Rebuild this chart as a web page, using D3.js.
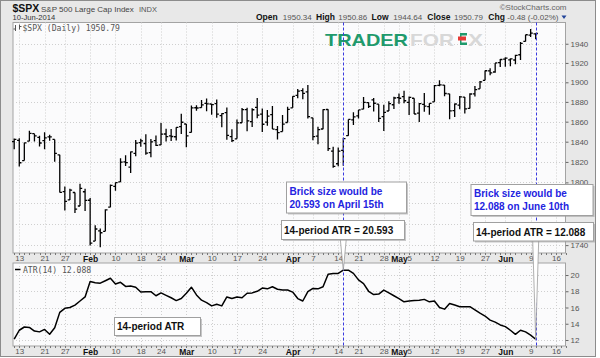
<!DOCTYPE html>
<html><head><meta charset="utf-8">
<script src="https://cdn.jsdelivr.net/npm/d3@7"></script>
<style>body{margin:0;background:#fff}svg{display:block}</style>
</head><body><svg id="c" width="600" height="358"></svg>
<script>
// ---------- DATA ----------
const dates = [
"2014-01-10","2014-01-13","2014-01-14","2014-01-15","2014-01-16","2014-01-17","2014-01-21","2014-01-22","2014-01-23","2014-01-24","2014-01-27","2014-01-28","2014-01-29","2014-01-30","2014-01-31",
"2014-02-03","2014-02-04","2014-02-05","2014-02-06","2014-02-07","2014-02-10","2014-02-11","2014-02-12","2014-02-13","2014-02-14","2014-02-18","2014-02-19","2014-02-20","2014-02-21","2014-02-24","2014-02-25","2014-02-26","2014-02-27","2014-02-28",
"2014-03-03","2014-03-04","2014-03-05","2014-03-06","2014-03-07","2014-03-10","2014-03-11","2014-03-12","2014-03-13","2014-03-14","2014-03-17","2014-03-18","2014-03-19","2014-03-20","2014-03-21","2014-03-24","2014-03-25","2014-03-26","2014-03-27","2014-03-28","2014-03-31",
"2014-04-01","2014-04-02","2014-04-03","2014-04-04","2014-04-07","2014-04-08","2014-04-09","2014-04-10","2014-04-11","2014-04-14","2014-04-15","2014-04-16","2014-04-17","2014-04-21","2014-04-22","2014-04-23","2014-04-24","2014-04-25","2014-04-28","2014-04-29","2014-04-30",
"2014-05-01","2014-05-02","2014-05-05","2014-05-06","2014-05-07","2014-05-08","2014-05-09","2014-05-12","2014-05-13","2014-05-14","2014-05-15","2014-05-16","2014-05-19","2014-05-20","2014-05-21","2014-05-22","2014-05-23","2014-05-27","2014-05-28","2014-05-29","2014-05-30",
"2014-06-02","2014-06-03","2014-06-04","2014-06-05","2014-06-06","2014-06-09","2014-06-10"];
const futureDates = ["2014-06-11","2014-06-12","2014-06-13","2014-06-16","2014-06-17","2014-06-18"];

const open = [
1840.06,1841.26,1821.36,1840.52,1847.99,1844.23,1841.05,1844.71,1842.29,1826.96,1791.03,1783.00,1790.15,1777.17,1790.88,
1782.68,1743.82,1753.38,1752.99,1776.01,1796.20,1800.45,1820.12,1814.82,1828.46,1839.03,1838.22,1829.24,1841.07,1836.78,1847.66,1845.79,1844.90,1855.12,
1857.68,1849.23,1874.05,1874.18,1878.52,1877.86,1878.26,1866.15,1869.06,1845.07,1842.81,1858.92,1872.25,1860.09,1874.53,1867.67,1859.48,1867.09,1852.11,1850.07,1859.16,
1873.96,1886.61,1891.43,1890.25,1863.92,1845.48,1852.64,1872.28,1830.65,1818.18,1831.45,1846.01,1861.73,1865.79,1872.57,1879.32,1881.97,1877.72,1865.00,1870.78,1877.10,
1884.39,1885.30,1879.45,1883.69,1868.53,1877.39,1875.27,1880.03,1896.75,1897.13,1888.16,1871.19,1876.66,1884.88,1873.34,1888.19,1893.32,1902.01,1911.77,1910.60,1920.33,
1923.87,1923.07,1923.06,1928.52,1942.41,1948.97,1950.34];
const high = [
1843.15,1843.45,1839.26,1850.84,1847.99,1846.04,1849.31,1846.87,1842.29,1826.96,1795.98,1793.87,1790.15,1798.77,1793.88,
1784.83,1758.73,1755.79,1774.06,1798.03,1799.94,1823.54,1826.55,1830.25,1841.65,1842.87,1847.50,1842.79,1846.13,1858.71,1852.91,1852.65,1854.53,1867.92,
1857.68,1876.23,1876.53,1881.94,1883.57,1877.87,1882.35,1868.38,1874.40,1852.44,1862.30,1873.76,1874.14,1873.49,1883.97,1873.34,1871.87,1875.92,1855.55,1866.63,1875.18,
1885.84,1893.17,1893.80,1897.28,1864.04,1854.95,1872.43,1872.53,1835.07,1834.19,1844.02,1862.31,1869.63,1871.89,1884.89,1879.75,1884.06,1877.72,1877.01,1880.60,1885.20,
1888.59,1891.33,1885.51,1883.69,1878.83,1889.07,1878.57,1897.13,1902.17,1897.13,1888.16,1878.28,1886.00,1884.88,1888.80,1896.33,1901.26,1912.28,1914.46,1920.03,1924.03,
1925.88,1924.97,1928.63,1941.74,1949.44,1955.55,1950.86];
const low = [
1832.43,1815.52,1821.36,1840.52,1840.30,1835.23,1832.38,1840.88,1820.06,1790.29,1772.88,1783.00,1770.45,1777.17,1772.26,
1739.66,1743.82,1737.92,1752.99,1776.01,1791.83,1800.41,1815.97,1809.22,1825.59,1835.01,1826.99,1824.58,1835.60,1836.78,1840.19,1840.66,1841.13,1847.67,
1834.44,1849.23,1871.11,1874.18,1870.56,1867.04,1863.88,1854.38,1841.86,1839.57,1842.81,1858.92,1850.35,1854.63,1863.46,1849.69,1855.96,1852.56,1842.11,1850.07,1859.16,
1873.96,1883.79,1882.65,1863.26,1841.48,1837.49,1852.38,1830.87,1814.36,1815.80,1816.29,1846.01,1856.72,1863.18,1872.57,1873.91,1870.24,1859.70,1850.61,1870.78,1872.69,
1878.04,1878.50,1866.77,1867.72,1859.79,1870.05,1867.02,1880.03,1896.06,1885.77,1862.36,1864.82,1872.42,1868.14,1873.34,1885.39,1893.32,1902.01,1907.30,1909.82,1915.85,
1915.98,1916.64,1918.60,1922.93,1942.41,1947.16,1944.64];
const close = [
1842.37,1819.20,1838.88,1848.38,1845.89,1838.70,1843.80,1844.86,1828.46,1790.29,1781.56,1792.50,1774.20,1794.19,1782.59,
1741.89,1755.20,1751.64,1773.43,1797.02,1799.84,1819.75,1819.26,1829.83,1838.63,1840.76,1828.75,1839.78,1836.25,1847.61,1845.12,1845.16,1854.29,1859.45,
1845.73,1873.91,1873.81,1877.03,1878.04,1877.17,1867.63,1868.20,1846.34,1841.13,1858.83,1872.25,1860.77,1872.01,1866.52,1857.44,1865.62,1852.56,1849.04,1857.62,1872.34,
1885.52,1890.90,1888.77,1865.09,1845.04,1851.96,1872.18,1833.08,1815.69,1830.61,1842.98,1862.31,1864.85,1871.89,1879.55,1875.39,1878.61,1863.40,1869.43,1878.33,1883.95,
1883.68,1881.14,1884.66,1867.72,1878.21,1875.63,1878.48,1896.65,1897.45,1888.53,1870.85,1877.86,1885.08,1872.83,1888.03,1892.49,1900.53,1911.91,1909.78,1920.03,1923.57,
1924.97,1924.24,1927.88,1940.46,1949.44,1951.27,1950.79];
const atr = [
12.1,13.2,13.6,13.55,13.1,13.0,13.3,12.7,13.5,15.4,15.9,16.0,16.3,16.8,17.3,
19.2,19.05,19.0,19.3,19.6,18.9,19.1,18.6,18.65,18.5,17.9,17.95,17.95,17.45,17.8,17.5,17.2,16.85,17.1,
17.75,18.5,17.55,16.9,16.6,16.2,16.4,16.2,17.3,17.1,17.3,17.2,17.75,17.8,18.0,18.4,18.3,18.55,18.25,18.15,18.15,
17.9,17.1,16.8,17.95,18.35,18.3,18.55,20.1,20.2,20.2,20.593,20.6,20.2,19.4,18.95,18.0,17.6,17.65,18.15,17.8,17.45,
17.1,16.7,16.8,16.85,16.9,17.0,16.7,16.8,16.0,15.8,16.5,16.3,16.1,16.1,16.1,15.7,15.3,14.95,14.45,14.2,13.85,
13.65,13.2,12.7,13.2,13.0,12.6,12.088];

const priceTicks = [1740,1760,1780,1800,1820,1840,1860,1880,1900,1920,1940];
const atrTicks = [12,14,16,18,20];
const xTickDates = ["2014-01-13","2014-01-21","2014-01-27","2014-02-03","2014-02-10","2014-02-18","2014-02-24","2014-03-03","2014-03-10","2014-03-17","2014-03-24","2014-04-01","2014-04-07","2014-04-14","2014-04-21","2014-04-28","2014-05-01","2014-05-05","2014-05-12","2014-05-19","2014-05-27","2014-06-02","2014-06-09","2014-06-16"];
const xTickLabels = ["13","21","27","Feb","10","18","24","Mar","10","17","24","Apr","7","14","21","28","May","5","12","19","27","Jun","9","16"];
const monthLabels = ["Feb","Mar","Apr","May","Jun"];

const headerLabels = ["Open","High","Low","Close","Chg"];
const headerValues = ["1950.34","1950.86","1944.64","1950.79","-0.48 (-0.02%)"];
const markIdx = [65, 103]; // Apr 15, Jun 10
const brickNotes = [["Brick size would be","20.593 on April 15th"],["Brick size would be","12.088 on June 10th"]];
const atrNotes = ["14-period ATR = 20.593","14-period ATR = 12.088"];

// ---------- LAYOUT ----------
const L=13, R=565.5, PT=22.5, PB=253, AT=263, AB=346;
const SANS = "'Liberation Sans', Arial, sans-serif";
const MONO = "'DejaVu Sans Mono', monospace";
const svg = d3.select("#c");
const allDates = dates.concat(futureDates);
const x = d3.scalePoint().domain(allDates).range([14.2, 14.2 + 5.063*(allDates.length-1)]);
const yP = d3.scaleLog().domain([1732.6, 1962.4]).range([PB, PT]);
const yA = d3.scaleLinear().domain([11.26, 21.48]).range([AB, AT]);

// background
svg.append("rect").attr("x",0.5).attr("y",0.5).attr("width",595).attr("height",356)
  .attr("fill","#e8e8e8").attr("stroke","#8c8c8c");

// header
svg.append("text").attr("x",12.5).attr("y",12).attr("font-family",SANS).attr("font-size",10.5)
  .attr("font-weight","bold").attr("fill","#111").text("$SPX");
svg.append("text").attr("x",41).attr("y",11.5).attr("font-family",SANS).attr("font-size",8)
  .attr("fill","#444").text("S&P 500 Large Cap Index");
svg.append("text").attr("x",139).attr("y",11.5).attr("font-family",SANS).attr("font-size",7.5)
  .attr("fill","#555").text("INDX");
svg.append("text").attr("x",12.5).attr("y",20).attr("font-family",SANS).attr("font-size",7.6)
  .attr("fill","#333").text("10-Jun-2014");
svg.append("text").attr("x",566.5).attr("y",10).attr("text-anchor","end").attr("font-family",SANS)
  .attr("font-size",8).attr("fill","#666").text("\u00A9StockCharts.com");
const labelX = [256, 316, 371.5, 427.3, 488.3];
const valueX = [282.8, 338.3, 393.3, 454, 507.3];
headerLabels.forEach((lab,i)=>{
  svg.append("text").attr("x",labelX[i]).attr("y",20).attr("font-family",SANS).attr("font-size",8.5)
    .attr("font-weight","bold").attr("fill","#111").text(lab);
  svg.append("text").attr("x",valueX[i]).attr("y",20).attr("font-family",SANS).attr("font-size",8)
    .attr("fill","#555").text(headerValues[i]);
});
svg.append("path").attr("d","M561.5,15.5 L566.5,15.5 L564,19 Z").attr("fill","#224499");

// panels
[[PT,PB],[AT,AB]].forEach(([t,b])=>{
  svg.append("rect").attr("x",L).attr("y",t).attr("width",R-L).attr("height",b-t)
    .attr("fill","#fbfbfc").attr("stroke","#a3a3a3");
});

// grid
const grid = svg.append("g").attr("stroke","#cfcfcf").attr("stroke-dasharray","1,2").attr("stroke-width",1);
xTickDates.forEach(d=>{
  const xx = Math.round(x(d))+0.5;
  grid.append("line").attr("x1",xx).attr("x2",xx).attr("y1",PT).attr("y2",PB);
  grid.append("line").attr("x1",xx).attr("x2",xx).attr("y1",AT).attr("y2",AB);
});
priceTicks.forEach(v=>{
  const yy = Math.round(yP(v))+0.5;
  grid.append("line").attr("x1",L).attr("x2",R).attr("y1",yy).attr("y2",yy);
});
atrTicks.forEach(v=>{
  const yy = Math.round(yA(v))+0.5;
  grid.append("line").attr("x1",L).attr("x2",R).attr("y1",yy).attr("y2",yy);
});

// day tick marks on panel bottoms
const dt = svg.append("g").attr("stroke","#777").attr("stroke-width",1);
allDates.forEach(d=>{
  const xx = Math.round(x(d))+0.5;
  dt.append("line").attr("x1",xx).attr("x2",xx).attr("y1",PB).attr("y2",PB+2);
  dt.append("line").attr("x1",xx).attr("x2",xx).attr("y1",AB).attr("y2",AB+2);
});

// watermark
const wm = svg.append("g").attr("font-family",SANS).attr("font-weight","bold").attr("font-size",17);
wm.append("text").attr("x",325).attr("y",45.5).attr("textLength",83).attr("lengthAdjust","spacingAndGlyphs")
  .attr("fill","#1f9a6c").text("TRADER");
wm.append("text").attr("x",410).attr("y",45.5).attr("textLength",44).attr("lengthAdjust","spacingAndGlyphs")
  .attr("fill","#d8d8d8").text("FOR");
wm.append("text").attr("x",468).attr("y",45.5).attr("textLength",15).attr("lengthAdjust","spacingAndGlyphs")
  .attr("fill","#d8d8d8").text("X");
wm.append("rect").attr("x",461).attr("y",33).attr("width",6).attr("height",2.5).attr("fill","#1f9a6c");
wm.append("rect").attr("x",460).attr("y",33).attr("width",1.5).attr("height",12).attr("fill","#1f9a6c");
wm.append("rect").attr("x",458).attr("y",36.5).attr("width",8).attr("height",4).attr("fill","#e53935");
wm.append("rect").attr("x",461).attr("y",42.5).attr("width",6).attr("height",2.5).attr("fill","#1f9a6c");

// OHLC bars
const bars = svg.append("g").attr("stroke","#000").attr("stroke-width",1.3).attr("fill","none");
dates.forEach((d,i)=>{
  const xx = x(d);
  bars.append("path").attr("d",
    `M${xx},${yP(high[i])}V${yP(low[i])}` +
    `M${xx-2.2},${yP(open[i])}H${xx}` +
    `M${xx},${yP(close[i])}H${xx+2.2}`);
});

// ATR line
svg.append("path").datum(atr)
  .attr("d", d3.line().x((v,i)=>x(dates[i])).y(v=>yA(v)))
  .attr("fill","none").attr("stroke","#000").attr("stroke-width",1.5).attr("stroke-linejoin","round");

// legends
const lg = svg.append("g").attr("stroke","#555").attr("stroke-width",1).attr("fill","none");
lg.append("path").attr("d","M15.5,25V31M13.5,29H15.5M19.5,24.5V29.5M19.5,26.5H21.5");
svg.append("text").attr("x",22.5).attr("y",30.5).attr("font-family",MONO).attr("font-size",8.1)
  .attr("fill","#555").text("$SPX (Daily) 1950.79");
svg.append("line").attr("x1",15).attr("x2",20.5).attr("y1",269.5).attr("y2",269.5)
  .attr("stroke","#000").attr("stroke-width",1.5);
svg.append("text").attr("x",23).attr("y",272.5).attr("font-family",MONO).attr("font-size",8.1)
  .attr("fill","#555").text("ATR(14) 12.088");

// axes
function styleAxis(g){
  g.select(".domain").remove();
  g.attr("font-family",SANS).attr("font-size",8);
  g.selectAll(".tick line").attr("stroke","#666");
  g.selectAll(".tick text").attr("fill","#555");
}
[PB, AB].forEach(yy=>{
  const g = svg.append("g").attr("transform",`translate(0,${yy})`)
    .call(d3.axisBottom(x).tickValues(xTickDates).tickFormat((d,i)=>xTickLabels[i]).tickSize(0).tickPadding(2.5));
  styleAxis(g);
  g.selectAll(".tick text").filter(t=>monthLabels.includes(xTickLabels[xTickDates.indexOf(t)]))
    .attr("font-weight","bold").attr("fill","#111").attr("font-size",8.5);
});
const gy1 = svg.append("g").attr("transform",`translate(${R},0)`)
  .call(d3.axisRight(yP).tickValues(priceTicks).tickFormat(d3.format("d")).tickSize(3).tickPadding(2));
styleAxis(gy1);
const gy2 = svg.append("g").attr("transform",`translate(${R},0)`)
  .call(d3.axisRight(yA).tickValues(atrTicks).tickFormat(d3.format("d")).tickSize(3).tickPadding(2));
styleAxis(gy2);

// dashed marker lines
markIdx.forEach(i=>{
  const xx = Math.round(x(dates[i]))+0.5;
  svg.append("line").attr("x1",xx).attr("x2",xx).attr("y1",PT).attr("y2",AB)
    .attr("stroke","#3a3ae0").attr("stroke-width",1).attr("stroke-dasharray","3,2");
});

// callouts
function box(x0,y0,w,h){
  svg.append("rect").attr("x",x0+2).attr("y",y0+2).attr("width",w).attr("height",h)
    .attr("fill","#9a9a9a").attr("opacity",0.55);
  svg.append("rect").attr("x",x0+0.5).attr("y",y0+0.5).attr("width",w).attr("height",h)
    .attr("fill","#fff").attr("stroke","#a0a0a0");
}
function tail(bx,by,px,py){
  svg.append("path").attr("d",`M${bx-3},${by}L${px},${py}L${bx+3},${by}Z`)
    .attr("fill","#fff").attr("stroke","#9a9a9a").attr("stroke-width",0.8);
}
function noteText(x0,y0,txt,color){
  svg.append("text").attr("x",x0).attr("y",y0).attr("font-family",SANS).attr("font-size",10)
    .attr("font-weight","bold").attr("fill",color).text(txt);
}
const boxGeom = [
  {bx:286, by:181.5, bw:120, bh:31, ax:281, ay:220, aw:123, ah:19},
  {bx:470.5, by:184, bw:122, bh:31, ax:473, ay:222, aw:120, ah:18.5}
];
markIdx.forEach((idx,k)=>{
  const g = boxGeom[k];
  const px = x(dates[idx]), py = yA(atr[idx]);
  tail(px, g.ay+g.ah, px, py);
  box(g.bx,g.by,g.bw,g.bh);
  noteText(g.bx+3.5, g.by+13, brickNotes[k][0], "#2323e0");
  noteText(g.bx+3.5, g.by+26, brickNotes[k][1], "#2323e0");
  box(g.ax,g.ay,g.aw,g.ah);
  noteText(g.ax+3, g.ay+13.5, atrNotes[k], "#111");
});
box(114,317,86,18);
noteText(117,330,"14-period ATR","#111");
</script></body></html>
